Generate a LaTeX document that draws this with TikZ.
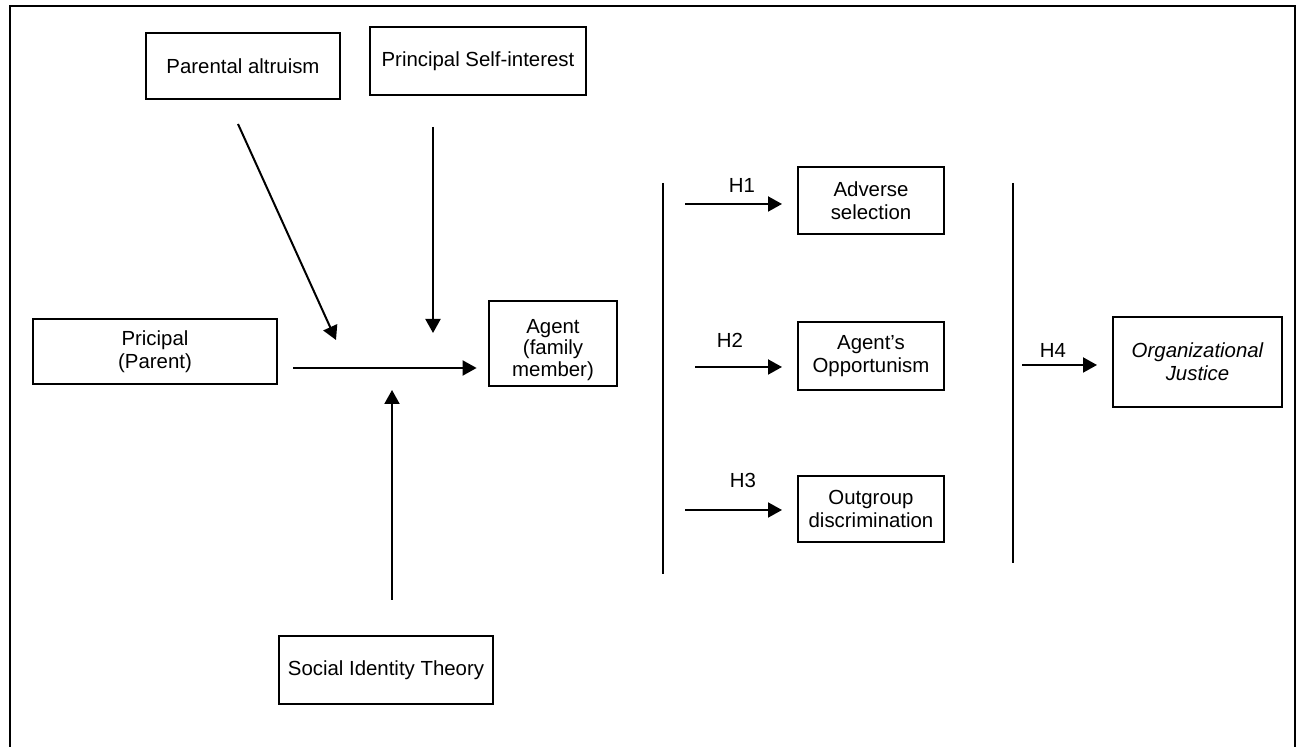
\documentclass[tikz,border=0pt]{standalone}
\usepackage{fontspec}
\setmainfont{Liberation Sans}
\usetikzlibrary{arrows.meta}
\begin{document}
\begin{tikzpicture}[x=0.5pt,y=-0.5pt,
  every node/.style={font=\fontsize{10.2}{11.5}\selectfont},
  box/.style={draw, line width=1.4pt, rectangle, align=center, inner sep=0pt},
  arr/.style={line width=1pt, -{Triangle[length=7pt,width=7.5pt]}},
  sep/.style={line width=1pt},
  hlab/.style={inner sep=0pt}]
\useasboundingbox (0,0) rectangle (1300,747);
\fill[white] (0,0) rectangle (1300,747);
% outer frame (open at the bottom)
\draw[line width=1.4pt] (10,747) -- (10,6) -- (1295,6) -- (1295,747);

% boxes
\node[box, minimum width=97pt, minimum height=33pt] (pa) at (243,66) {Parental altruism};
\node[box, minimum width=108pt, minimum height=34pt] (psi) at (478,61) {Principal Self-interest};
\node[box, minimum width=122pt, minimum height=32.5pt] (pp) at (155,351.5) {Pricipal\\(Parent)};
\node[box, minimum width=64pt, minimum height=42.5pt] (ag) at (553,343.5) {};
\node[align=center, inner sep=0pt, font=\fontsize{10.2}{10.6}\selectfont] (agt) at (553,350) {Agent\\(family\\member)};
\node[box, minimum width=107pt, minimum height=34pt] (sit) at (386,670) {Social Identity Theory};
\node[box, minimum width=73pt, minimum height=33.5pt] (as) at (871,200.5) {Adverse\\selection};
\node[box, minimum width=73pt, minimum height=34pt] (ao) at (871,356) {Agent’s\\Opportunism};
\node[box, minimum width=73pt, minimum height=33pt] (od) at (871,509) {Outgroup\\discrimination};
\node[box, minimum width=84.5pt, minimum height=45pt] (oj) at (1197.5,362) {\itshape Organizational\\\itshape Justice};

% moderator arrows
\coordinate (d1) at (238,124);
\coordinate (d2) at (336,340);
\draw[arr] (d1) -- (d2);
\coordinate (s1) at (433,127);
\coordinate (s2) at (433,333);
\draw[arr] (s1) -- (s2);
\coordinate (u1) at (392,600);
\coordinate (u2) at (392,390);
\draw[arr] (u1) -- (u2);

% main arrow
\coordinate (m1) at (293,368);
\draw[arr, shorten >=5.5pt] (m1) -- (m1 -| ag.west);

% separators
\coordinate (l1) at (663,183);
\coordinate (l2) at (663,574);
\draw[sep] (l1) -- (l2);
\coordinate (r1) at (1013,183);
\coordinate (r2) at (1013,563);
\draw[sep] (r1) -- (r2);

% hypothesis arrows
\coordinate (h1a) at (685,204); \coordinate (h1b) at (782,204);
\draw[arr] (h1a) -- (h1b);
\coordinate (h2a) at (695,367); \coordinate (h2b) at (782,367);
\draw[arr] (h2a) -- (h2b);
\coordinate (h3a) at (685,510); \coordinate (h3b) at (782,510);
\draw[arr] (h3a) -- (h3b);
\coordinate (h4a) at (1022,365); \coordinate (h4b) at (1097,365);
\draw[arr] (h4a) -- (h4b);

\node[hlab] (lh1) at (742,185) {H1};
\node[hlab] (lh2) at (730,340) {H2};
\node[hlab] (lh3) at (743,480) {H3};
\node[hlab] (lh4) at (1053,350) {H4};
\end{tikzpicture}
\end{document}
